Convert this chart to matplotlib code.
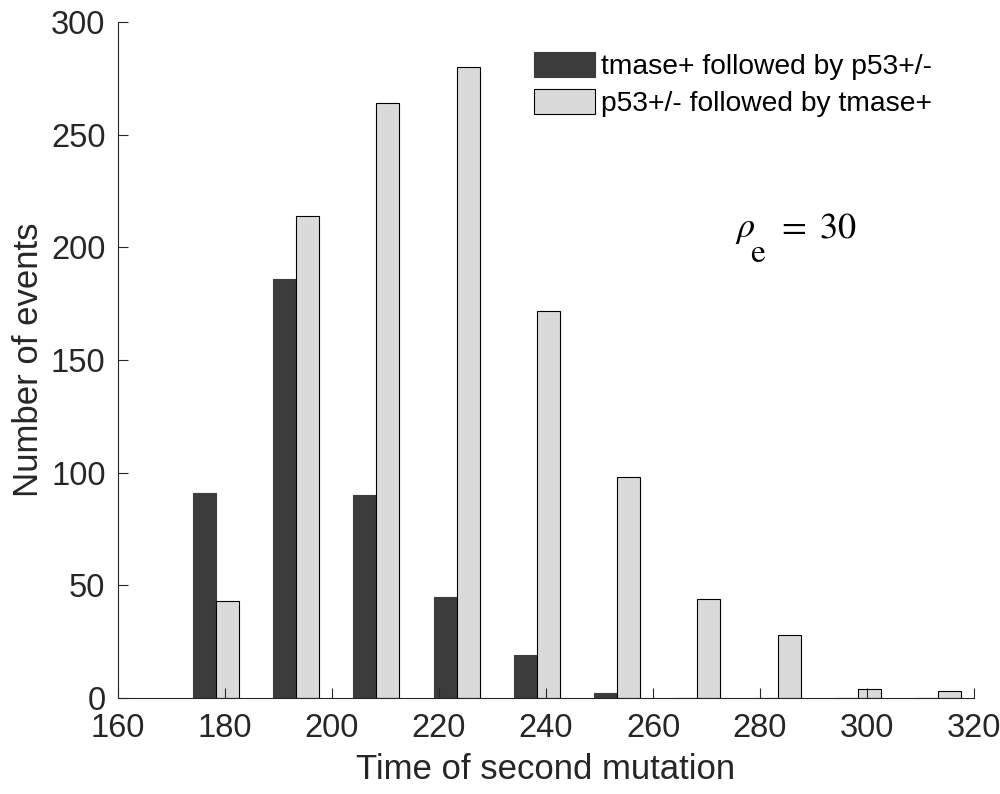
import matplotlib
matplotlib.use('Agg')
import matplotlib.pyplot as plt
import numpy as np

plt.rcParams['font.family'] = ['Liberation Sans', 'DejaVu Sans']
plt.rcParams['mathtext.fontset'] = 'stix'

# Histogram bin centres and counts.
bin_centres = [178.3, 193.3, 208.3, 223.3, 238.3, 253.3, 268.3, 283.3, 298.3, 313.3]
tmase_first = [91, 186, 90, 45, 19, 2, 0, 0, 0, 0]
p53_first = [43, 214, 264, 280, 172, 98, 44, 28, 4, 3]
labels = ['tmase+ followed by p53+/-', 'p53+/- followed by tmase+']

fig = plt.figure(figsize=(10, 7.94), dpi=100)
ax = fig.add_axes([0.118, 0.121, 0.856, 0.851])

x = np.array(bin_centres)
w = 4.3
ax.bar(x - w / 2, tmase_first, width=w, color='#3c3c3c', edgecolor='#3c3c3c',
       linewidth=0.8, label=labels[0])
ax.bar(x + w / 2, p53_first, width=w, color='#dadada', edgecolor='black',
       linewidth=0.8, label=labels[1])

ax.set_xlim(160, 320)
ax.set_ylim(0, 300)
ax.set_xticks(range(160, 321, 20))
ax.set_yticks(range(0, 301, 50))
ax.tick_params(direction='in', labelsize=23.5, length=7, width=0.8,
               labelcolor='#262626', color='#262626')
ax.tick_params(axis='x', pad=11)
ax.tick_params(axis='y', pad=9)
for s in ['left', 'bottom']:
    ax.spines[s].set_color('#262626')
ax.spines['top'].set_visible(False)
ax.spines['right'].set_visible(False)

ax.set_xlabel('Time of second mutation', fontsize=25, color='#262626', labelpad=6)
ax.set_ylabel('Number of events', fontsize=25, color='#262626', labelpad=4)

# rho_e = 30 annotation, subscript dropped low like the original
ax.text(0.721, 0.682, r'$\rho$', transform=ax.transAxes, fontsize=26, va='baseline')
ax.text(0.738, 0.645, r'$\mathrm{e}$', transform=ax.transAxes, fontsize=24, va='baseline')
ax.text(0.769, 0.682, r'$=\ 30$', transform=ax.transAxes, fontsize=26, va='baseline')

fig.legend(loc='upper right', bbox_to_anchor=(0.932, 0.934), frameon=False,
           fontsize=20.3, handlelength=2.16, handleheight=0.97, handletextpad=0.22,
           labelspacing=0.3, borderpad=0, borderaxespad=0)

fig.savefig('out.png')
